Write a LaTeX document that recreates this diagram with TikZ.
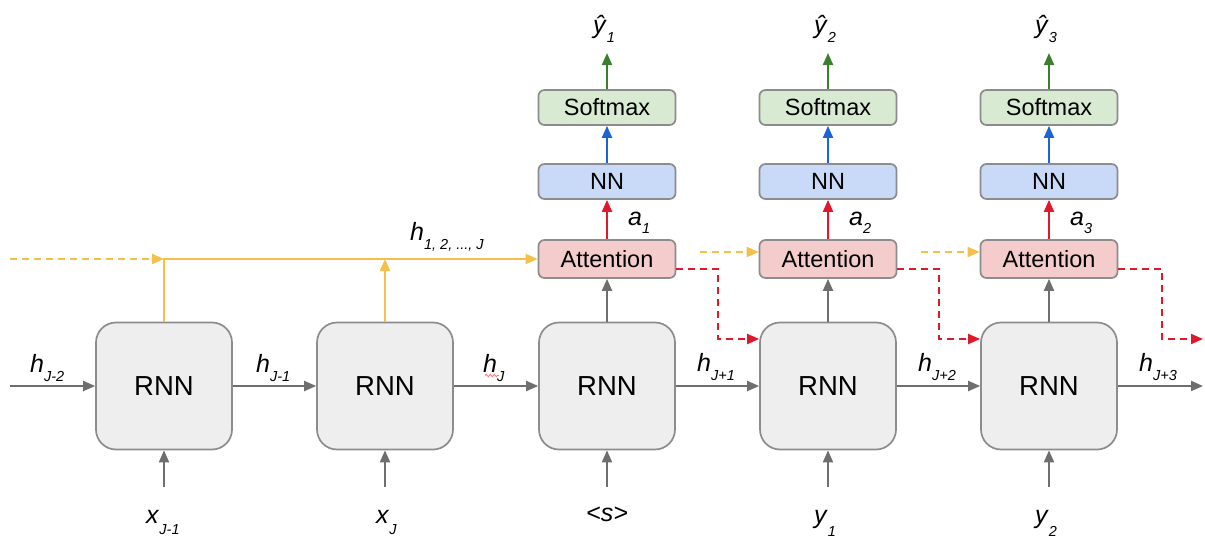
\documentclass[tikz,border=0pt]{standalone}
\usepackage{fontspec}
\setmainfont{Liberation Sans}
\usetikzlibrary{arrows.meta,calc,decorations.pathmorphing}

\definecolor{rnnfill}{HTML}{EEEEEE}
\definecolor{boxline}{HTML}{8C8C8C}
\definecolor{attfill}{HTML}{F4CCCC}
\definecolor{nnfill}{HTML}{C9DAF8}
\definecolor{smfill}{HTML}{D9EAD3}
\definecolor{flowgray}{HTML}{6E6E6E}
\definecolor{ctxyellow}{HTML}{F5C04A}
\definecolor{attred}{HTML}{E0182B}
\definecolor{nnblue}{HTML}{1C64D6}
\definecolor{outgreen}{HTML}{3B7F2C}

% italic symbol with a lowered small subscript: [drop]{symbol}{subscript}
\newcommand\symlab[3][10]{\textit{#2}\raisebox{-#1pt}{\fontsize{14.5}{16}\selectfont\textit{#3}}}

\begin{document}
\begin{tikzpicture}[x=1pt,y=-1pt,
  rnnbox/.style={draw=boxline, fill=rnnfill, line width=1.7pt, rounded corners=20pt,
    minimum width=136pt, minimum height=127pt, font=\fontsize{27.5}{30}\selectfont},
  smallbox/.style={draw=boxline, line width=1.7pt, rounded corners=6pt,
    minimum width=137pt, font=\fontsize{23.5}{26}\selectfont},
  attbox/.style={smallbox, fill=attfill, minimum height=38pt},
  nnbox/.style={smallbox, fill=nnfill, minimum height=35pt},
  smbox/.style={smallbox, fill=smfill, minimum height=35pt},
  tip/.style={-{Triangle[length=12pt,width=10pt]}},
  garrow/.style={tip, draw=flowgray, line width=2pt},
  yarrow/.style={tip, draw=ctxyellow, line width=2pt},
  ydash/.style={yarrow, dash pattern=on 7pt off 5pt},
  rarrow/.style={tip, draw=attred, line width=2pt},
  rdash/.style={rarrow, dash pattern=on 7pt off 5pt},
  barrow/.style={tip, draw=nnblue, line width=2pt},
  oarrow/.style={tip, draw=outgreen, line width=2pt},
  lab/.style={inner sep=0pt, anchor=base west, font=\fontsize{25}{28}\selectfont},
  squiggle/.style={draw=red!55, line width=0.8pt,
    decorate, decoration={snake, amplitude=1.2pt, segment length=4pt}}
]
\useasboundingbox (0,0) rectangle (1205,538);

% recurrent cells
\foreach \i/\x in {1/164,2/385,3/607,4/828,5/1049}{
  \node[rnnbox] (rnn\i) at (\x,386) {RNN};
  \coordinate (in\i) at (\x,487);
}

% attention / NN / softmax stacks on the decoder cells
\foreach \i/\x in {3/607,4/828,5/1049}{
  \node[attbox] (att\i) at (\x,259) {Attention};
  \node[nnbox]  (nn\i)  at (\x,181.5) {NN};
  \node[smbox]  (sm\i)  at (\x,107.5) {Softmax};
  \coordinate (top\i) at (\x,53);
  \draw[garrow] (rnn\i.north) -- (att\i.south);
  \draw[rarrow] (att\i.north) -- (nn\i.south);
  \draw[barrow] (nn\i.north) -- (sm\i.south);
  \draw[oarrow] (sm\i.north) -- (top\i);
}

% inputs
\foreach \i in {1,...,5}{
  \draw[garrow] (in\i) -- (rnn\i.south);
}

% hidden state chain
\coordinate (hin) at (10,386);
\coordinate (hout) at (1203,386);
\draw[garrow] (hin) -- (rnn1.west);
\draw[garrow] (rnn1.east) -- (rnn2.west);
\draw[garrow] (rnn2.east) -- (rnn3.west);
\draw[garrow] (rnn3.east) -- (rnn4.west);
\draw[garrow] (rnn4.east) -- (rnn5.west);
\draw[garrow] (rnn5.east) -- (hout);

% encoder states collected for attention
\coordinate (ystart) at (10,259);
\coordinate (yjoin) at (rnn1.north |- att3.west);
\draw[ydash] (ystart) -- (yjoin);
\draw[yarrow] (rnn1.north) -- (yjoin) -- (att3.west);
\draw[yarrow] (rnn2.north) -- (rnn2.north |- att3.west);
\coordinate (y4) at (700,252);
\coordinate (y5) at (921,252);
\draw[ydash] (y4) -- (y4 -| att4.west);
\draw[ydash] (y5) -- (y5 -| att5.west);

% attention context fed to the next cell
\coordinate (b3) at (718,339);
\coordinate (b4) at (939,339);
\coordinate (b5) at (1162,339);
\coordinate (e5) at (1203,339);
\draw[rdash] ([yshift=-10pt]att3.east) -| (b3) -- (b3 -| rnn4.west);
\draw[rdash] ([yshift=-10pt]att4.east) -| (b4) -- (b4 -| rnn5.west);
\draw[rdash] ([yshift=-10pt]att5.east) -| (b5) -- (e5);

% hidden state labels
\node[lab] (lhm2) at (30,372)  {\symlab[9]{h}{J-2}};
\node[lab] (lhm1) at (256,372) {\symlab[9]{h}{J-1}};
\node[lab] (lhj)  at (483,372) {\symlab[9]{h}{J}};
\node[lab] (lhp1) at (697,371) {\symlab[9]{h}{J+1}};
\node[lab] (lhp2) at (918,371) {\symlab[9]{h}{J+2}};
\node[lab] (lhp3) at (1139,371) {\symlab[9]{h}{J+3}};
\node[lab] (lhall) at (410,240) {\symlab[9]{h}{1, 2, ..., J}};
\draw[squiggle] (485,375.5) -- (499,375.5);

% attention weights
\node[lab] (la1) at (628,225)  {\symlab[8]{a}{1}};
\node[lab] (la2) at (849,225)  {\symlab[8]{a}{2}};
\node[lab] (la3) at (1070,225) {\symlab[8]{a}{3}};

% predictions
\node[lab] (lo1) at (593,34)  {\symlab[9]{ŷ}{1}};
\node[lab] (lo2) at (814,34)  {\symlab[9]{ŷ}{2}};
\node[lab] (lo3) at (1035,34) {\symlab[9]{ŷ}{3}};

% inputs
\node[lab] (lx1) at (146,523) {\symlab[11]{x}{J-1}};
\node[lab] (lx2) at (376,523) {\symlab[11]{x}{J}};
\node[lab, anchor=base] (ls) at (607,521) {\textit{<s>}};
\node[lab] (ly1) at (814,523)  {\symlab[13]{y}{1}};
\node[lab] (ly2) at (1035,523) {\symlab[13]{y}{2}};
\end{tikzpicture}
\end{document}
